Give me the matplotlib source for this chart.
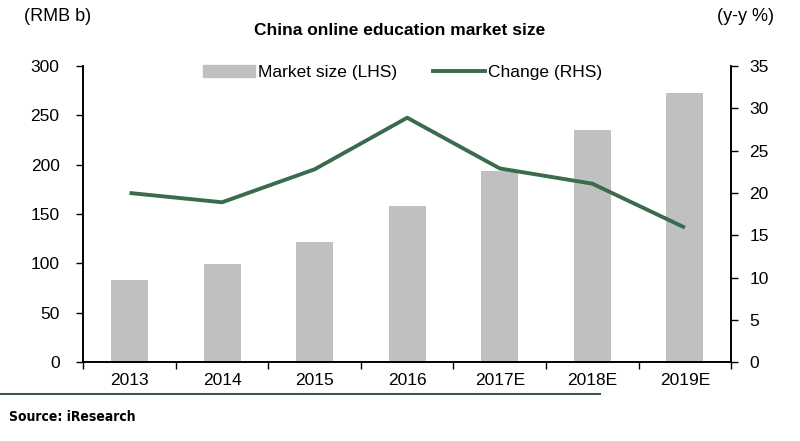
import numpy as np
import matplotlib.pyplot as plt
from matplotlib.lines import Line2D
from matplotlib.patches import Patch

years = ['2013', '2014', '2015', '2016', '2017E', '2018E', '2019E']
market_size = [83, 99, 122, 158, 194, 235, 273]
change = [20.0, 18.9, 22.8, 28.9, 22.9, 21.1, 15.9]

plt.rcParams['font.family'] = ['Liberation Sans', 'DejaVu Sans']

bar_color = '#c0c0c0'
line_color = '#3b6b4f'

fig = plt.figure(figsize=(8, 4.41), dpi=100)
ax = fig.add_axes([0.104, 0.179, 0.81, 0.671])
x = np.arange(len(years))

ax.bar(x, market_size, width=0.4, color=bar_color, zorder=2)
ax.set_ylim(0, 300)
ax.set_yticks(range(0, 301, 50))
ax.set_xlim(-0.5, len(years) - 0.5)

ax2 = ax.twinx()
ax2.plot(x, change, color=line_color, linewidth=2.8, solid_capstyle='butt', zorder=3)
ax2.set_ylim(0, 35)
ax2.set_yticks(range(0, 36, 5))

# ticks between categories, labels centred
ax.set_xticks(np.arange(-0.5, len(years), 1))
ax.set_xticklabels([])
ax.set_xticks(x, minor=True)
ax.set_xticklabels(years, minor=True)
ax.tick_params(axis='x', which='minor', length=0, pad=8, labelsize=12.5)
ax.tick_params(axis='x', which='major', length=5, direction='out', width=1)

ax.tick_params(axis='y', labelsize=12.5, length=5, width=1, pad=12)
ax2.tick_params(axis='y', labelsize=12.5, length=5, width=1, pad=8)

for a in (ax, ax2):
    a.spines['top'].set_visible(False)
    for s in ('left', 'right', 'bottom'):
        a.spines[s].set_linewidth(1.2)

fig.text(0.5, 0.93, 'China online education market size', ha='center', va='center',
         fontsize=12.5, fontweight='bold')
fig.text(0.03, 0.962, '(RMB b)', ha='left', va='center', fontsize=13)
fig.text(0.967, 0.962, '(y-y %)', ha='right', va='center', fontsize=13)

handles = [Patch(color=bar_color, label='Market size (LHS)'),
           Line2D([0], [0], color=line_color, lw=2.8, label='Change (RHS)')]
fig.legend(handles=handles, loc='center', bbox_to_anchor=(0.503, 0.835), ncol=2,
           frameon=False, fontsize=12.5, handlelength=3.0, handletextpad=0.15,
           columnspacing=2.1)

fig.add_artist(Line2D([0.0, 0.75], [0.107, 0.107], color='#3b5a4a', lw=1.5))
fig.text(0.011, 0.055, 'Source: iResearch', ha='left', va='center', fontsize=10,
         fontweight='bold', fontstretch='condensed',
         family=['Liberation Sans Narrow', 'DejaVu Sans'])

fig.savefig('out.png', dpi=100)
